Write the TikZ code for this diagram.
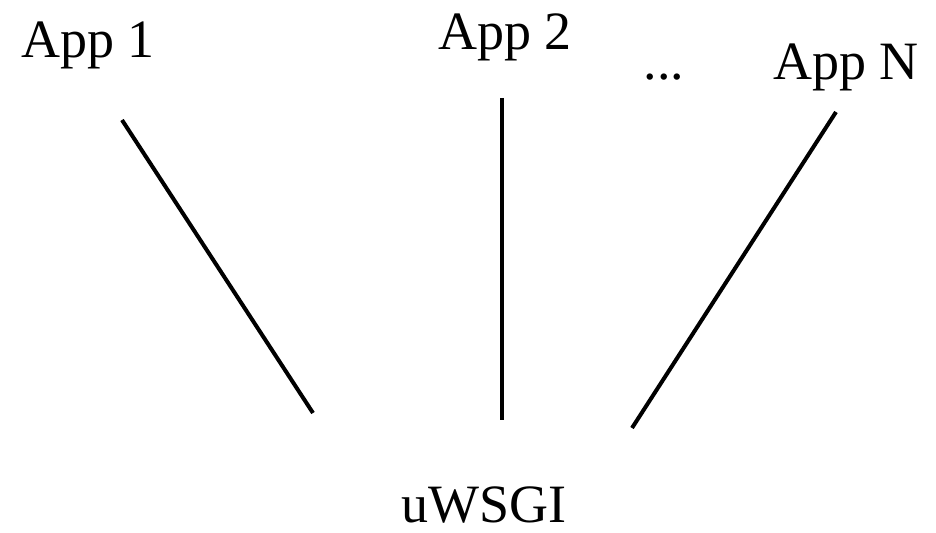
\documentclass[tikz,border=0pt]{standalone}
\usepackage{fontspec}
\setmainfont{Liberation Serif}
\begin{document}
\begin{tikzpicture}[x=0.5pt,y=-0.5pt,
  lbl/.style={anchor=base,inner sep=0pt,font=\fontsize{27}{30}\selectfont},
  link/.style={line width=2pt}]
\useasboundingbox (0,0) rectangle (936,533);
\node[lbl] (app1) at (88,58) {App 1};
\node[lbl] (app2) at (505,50) {App 2};
\node[lbl] (dots) at (664,80) {...};
\node[lbl] (appn) at (846,80) {App N};
\node[lbl] (uwsgi) at (484,523) {uWSGI};
\coordinate (a1) at (122,120);
\coordinate (b1) at (313,413);
\coordinate (a2) at (502,98);
\coordinate (b2) at (502,420);
\coordinate (an) at (836,112);
\coordinate (bn) at (632,428);
\draw[link] (a1) -- (b1);
\draw[link] (a2) -- (b2);
\draw[link] (an) -- (bn);
\end{tikzpicture}
\end{document}
